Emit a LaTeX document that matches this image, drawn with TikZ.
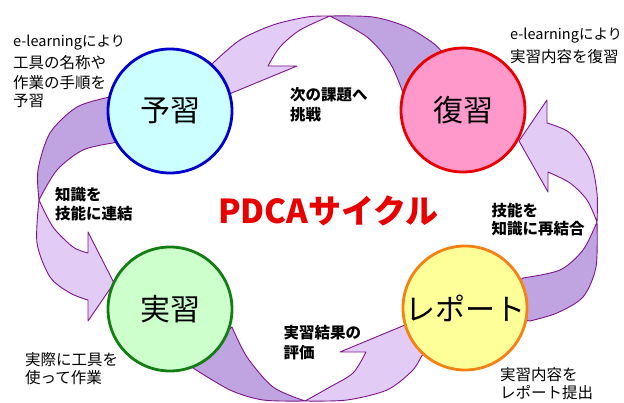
\documentclass[tikz,border=0pt]{standalone}
\usepackage{fontspec}
\setmainfont{Noto Sans CJK JP}
\definecolor{arrowlight}{RGB}{226,204,246}
\definecolor{arrowdark}{RGB}{192,164,226}
\definecolor{arrowline}{RGB}{128,20,140}
\definecolor{yofill}{RGB}{204,255,255}
\definecolor{yoline}{RGB}{0,0,204}
\definecolor{fukufill}{RGB}{255,153,204}
\definecolor{fukuline}{RGB}{230,0,0}
\definecolor{jitsufill}{RGB}{204,255,204}
\definecolor{jitsuline}{RGB}{20,125,20}
\definecolor{repfill}{RGB}{255,255,153}
\definecolor{repline}{RGB}{245,128,20}
\definecolor{titlered}{RGB}{232,0,0}
\begin{document}
\begin{tikzpicture}[x=1pt,y=-1pt,
  lightband/.style={fill=arrowlight, draw=arrowline, line width=0.9pt, line join=round},
  darkband/.style={fill=arrowdark, draw=arrowline, line width=0.9pt, line join=round},
  stage/.style={circle, minimum size=124pt, line width=2.8pt, inner sep=0pt, font=\fontsize{30}{30}\selectfont},
  note/.style={anchor=west, inner sep=0pt, font=\fontsize{15.5}{18}\selectfont},
  latinnote/.style={anchor=west, inner sep=0pt, font=\fontsize{14.5}{18}\selectfont},
  bnote/.style={anchor=west, inner sep=0pt, font=\fontsize{15.5}{18}\selectfont\bfseries},
]
\useasboundingbox (0,0) rectangle (624,403);
\fill[white] (0,0) rectangle (624,403);

% top arrow: 復習 -> 予習
\draw[darkband] plot[smooth] coordinates {(330,16) (373,17) (407,27) (433,43) (442,52)} -- (445,62) -- (405,100) -- plot[smooth] coordinates {(402,90) (390,63) (367,37) (330,16)} -- cycle;
\draw[lightband] plot[smooth] coordinates {(330,16) (307,17) (273,25) (240,40) (213,63)} -- (205,78) -- (222,97) -- (297,66) -- plot[smooth] coordinates {(268,66) (280,47) (300,30) (330,16)} -- cycle;

% right arrow: レポート -> 復習
\draw[darkband] plot[smooth] coordinates {(597,222) (596,267) (583,297) (557,313) (530,321)} -- (512,318) -- (515,285) -- plot[smooth] coordinates {(523,278) (560,270) (583,250) (597,222)} -- cycle;
\draw[lightband] plot[smooth] coordinates {(597,222) (597,193) (590,160) (570,133) (547,123)} -- (547,100) -- (519,141) -- (548,192) -- plot[smooth] coordinates {(548,172) (570,183) (587,200) (597,222)} -- cycle;

% bottom arrow: 実習 -> レポート
\draw[darkband] plot[smooth] coordinates {(305,401) (263,400) (230,390) (193,368)} -- (185,362) -- (222,335) -- plot[smooth] coordinates {(232,327) (247,357) (273,387) (305,401)} -- cycle;
\draw[lightband] plot[smooth] coordinates {(305,401) (347,400) (387,390) (412,371) (421,357)} -- (430,345) -- (405,325) -- (340,352) -- plot[smooth] coordinates {(366,352) (353,373) (330,387) (305,401)} -- cycle;

% left arrow: 予習 -> 実習
\draw[darkband] plot[smooth] coordinates {(39,200) (38,170) (50,133) (77,107) (110,97)} -- (125,100) -- (122,140) -- plot[smooth] coordinates {(113,143) (83,150) (57,170) (39,200)} -- cycle;
\draw[lightband] plot[smooth] coordinates {(39,200) (37,243) (50,277) (70,293) (88,300)} -- (88,321) -- (114,283) -- (88,232) -- plot[smooth] coordinates {(88,253) (73,247) (53,227) (39,200)} -- cycle;

% stages
\node[stage, fill=yofill, draw=yoline] (yoshu) at (170,111) {予習};
\node[stage, fill=fukufill, draw=fukuline] (fukushu) at (463,110) {復習};
\node[stage, fill=jitsufill, draw=jitsuline] (jisshu) at (170,309) {実習};
\node[stage, fill=repfill, draw=repline] (report) at (465,308) {レポート};

% title
\node[inner sep=0pt, text=titlered, font=\fontsize{33}{33}\selectfont\bfseries] (title) at (328.5,211) {PDCAサイクル};

% notes
\node[latinnote] (tl1) at (13,43) {e-learningにより};
\node[note] (tl2) at (13,62.5) {工具の名称や};
\node[note] (tl3) at (13,82.5) {作業の手順を};
\node[note] (tl4) at (13,101) {予習};

\node[latinnote] (tr1) at (510,36) {e-learningにより};
\node[note] (tr2) at (510,56.7) {実習内容を復習};

\node[bnote] (t1) at (290,95) {次の課題へ};
\node[bnote] (t2) at (290,115) {挑戦};

\node[bnote] (l1) at (55,195) {知識を};
\node[bnote] (l2) at (55,213.3) {技能に連結};

\node[bnote] (r1) at (491.5,211) {技能を};
\node[bnote] (r2) at (491.5,229) {知識に再結合};

\node[bnote] (b1) at (283.3,332.5) {実習結果の};
\node[bnote] (b2) at (283.3,352.5) {評価};

\node[note] (bl1) at (25,359.5) {実際に工具を};
\node[note] (bl2) at (25,378) {使って作業};

\node[note] (br1) at (500,375) {実習内容を};
\node[note] (br2) at (500,393) {レポート提出};
\end{tikzpicture}
\end{document}
